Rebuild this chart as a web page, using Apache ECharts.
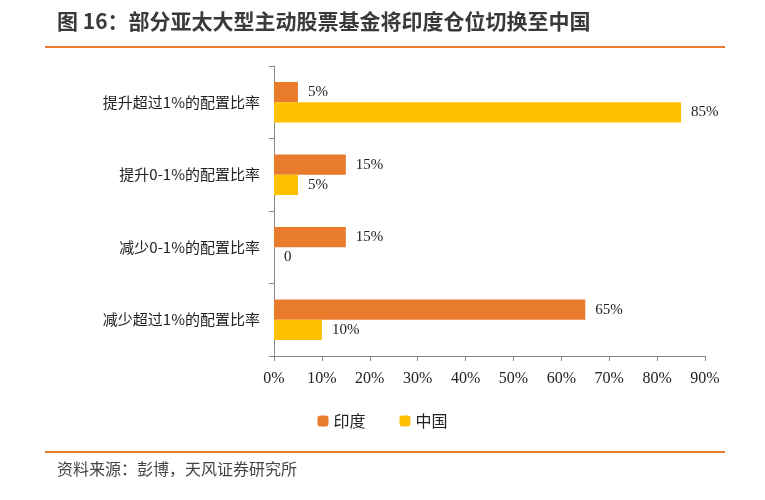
<!DOCTYPE html>
<html><head><meta charset="utf-8">
<script src="https://cdn.jsdelivr.net/npm/echarts@6/dist/echarts.min.js"></script>
<style>body{margin:0;background:#fff}#c{width:765px;height:500px}</style>
</head><body><div id="c"></div>
<script>
const categories = ['提升超过1%的配置比率','提升0-1%的配置比率','减少0-1%的配置比率','减少超过1%的配置比率'];
const india = [5, 15, 15, 65];
const china = [85, 5, 0, 10];
const xTicks = [0,10,20,30,40,50,60,70,80,90];
const chart = echarts.init(document.getElementById('c'));
const lbl = {show:true, position:'right', distance:10, fontFamily:'Liberation Serif', fontSize:15, color:'#222', formatter:p=>p.value===0?'0':p.value+'%'};
chart.setOption({
  animation:false,
  graphic:[
    {type:'text', left:57, top:11, style:{text:'图 16：部分亚太大型主动股票基金将印度仓位切换至中国', font:'bold 21px "Noto Sans CJK SC"', fill:'#3a3a3a'}},
    {type:'rect', shape:{x:45,y:46,width:680,height:2}, style:{fill:'#E97B2C'}},
    {type:'rect', shape:{x:45,y:451,width:680,height:2}, style:{fill:'#E97B2C'}},
    {type:'text', left:57, top:461, style:{text:'资料来源：彭博，天风证券研究所', font:'16px "Noto Sans CJK SC"', fill:'#444'}}
  ],
  legend:{top:408, left:'center', itemWidth:11, itemHeight:11, itemGap:34, textStyle:{fontFamily:'Noto Sans CJK SC', fontSize:16, color:'#222'}, data:['印度','中国']},
  grid:{left:274, right:60, top:66, bottom:144},
  xAxis:{type:'value', min:0, max:90, interval:10, axisLine:{show:true,lineStyle:{color:'#888'}}, axisTick:{show:true,lineStyle:{color:'#888'}}, splitLine:{show:false},
    axisLabel:{fontFamily:'Liberation Serif', fontSize:16, color:'#222', margin:15, formatter:v=>xTicks.includes(v)?v+'%':''}},
  yAxis:{type:'category', inverse:true, data:categories, axisLine:{lineStyle:{color:'#888'}}, axisTick:{show:true,lineStyle:{color:'#888'}},
    axisLabel:{fontFamily:'Noto Sans CJK SC', fontSize:15, color:'#222', margin:14}},
  series:[
    {name:'印度', type:'bar', data:india, itemStyle:{color:'#E97B2C'}, barGap:'0%', barCategoryGap:'44%', label:lbl},
    {name:'中国', type:'bar', data:china, itemStyle:{color:'#FFC000'}, label:lbl}
  ]
});
</script></body></html>
